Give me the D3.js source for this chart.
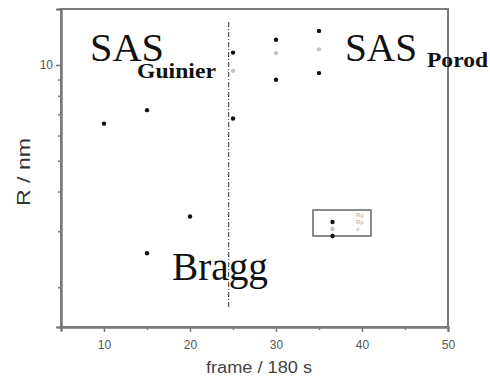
<!DOCTYPE html>
<html>
<head>
<meta charset="utf-8">
<script src="https://cdn.jsdelivr.net/npm/d3@7"></script>
<style>
  html, body { margin: 0; padding: 0; background: #fff; }
  svg { display: block; }
</style>
</head>
<body>
<svg id="chart" width="490" height="377"></svg>
<script>
// Particle size R (nm) against frame number (180 s per frame)
const guinierFrames = [10, 15, 25, 30, 35];
const guinierR      = [6.54, 7.21, 6.79, 8.99, 9.43];
const porodFrames   = [25, 30, 35];
const porodR        = [10.94, 12.0, 12.8];
const midFrames     = [25, 30, 35];
const midR          = [9.59, 10.9, 11.2];
const braggFrames   = [15, 20];
const braggR        = [2.56, 3.34];
const boundaryFrame = 24.5;

const xMajorTicks = [10, 20, 30, 40, 50];
const xMinorTicks = [15, 25, 35, 45];
const yMajorTicks = [10];
const yMinorTicks = [2, 3, 4, 5, 6, 7, 8, 9];
const legendLabels = ["Rg", "Rp", "d"];

const svg = d3.select("#chart");
const x = d3.scaleLinear().domain([5, 50]).range([61, 448]);
const y = d3.scaleLog().domain([1.5, 15]).range([327, 9]);

const axisColor = "#7a7a7a";

// frame box
svg.append("rect")
  .attr("x", x(5)).attr("y", y(15))
  .attr("width", x(50) - x(5)).attr("height", y(1.5) - y(15))
  .attr("fill", "none").attr("stroke", axisColor).attr("stroke-width", 2);

// bottom axis
svg.append("g").attr("transform", `translate(0,${y(1.5)})`)
  .call(d3.axisBottom(x).tickValues(xMajorTicks).tickSize(5).tickPadding(8).tickFormat(d3.format("d")));
svg.append("g").attr("transform", `translate(0,${y(1.5)})`)
  .call(d3.axisBottom(x).tickValues(xMinorTicks).tickSize(3).tickFormat(""));

// left axis
svg.append("g").attr("transform", `translate(${x(5)},0)`)
  .call(d3.axisLeft(y).tickValues(yMajorTicks).tickSize(5).tickPadding(3).tickFormat(d3.format("d")));
svg.append("g").attr("transform", `translate(${x(5)},0)`)
  .call(d3.axisLeft(y).tickValues(yMinorTicks).tickSize(3).tickFormat(""));

svg.selectAll(".domain").attr("stroke", axisColor).attr("stroke-width", 2);
svg.selectAll(".tick line").attr("stroke", axisColor).attr("stroke-width", 1.5);
svg.selectAll(".tick text")
  .attr("fill", "#555").attr("font-family", "Liberation Sans, Arial, sans-serif")
  .attr("font-size", 12);

// axis titles
svg.append("text")
  .attr("x", 259).attr("y", 373).attr("text-anchor", "middle")
  .attr("font-family", "Liberation Sans, Arial, sans-serif").attr("font-size", 16)
  .attr("fill", "#444")
  .attr("textLength", 106).attr("lengthAdjust", "spacingAndGlyphs")
  .text("frame / 180 s");
svg.append("text")
  .attr("transform", "translate(30,172) rotate(-90)").attr("text-anchor", "middle")
  .attr("font-family", "Liberation Sans, Arial, sans-serif").attr("font-size", 19)
  .attr("fill", "#333")
  .attr("textLength", 68).attr("lengthAdjust", "spacingAndGlyphs")
  .text("R / nm");

// Guinier / Porod boundary
svg.append("line")
  .attr("x1", x(boundaryFrame)).attr("x2", x(boundaryFrame))
  .attr("y1", 22).attr("y2", 307)
  .attr("stroke", "#333").attr("stroke-width", 1)
  .attr("stroke-dasharray", "5,2,1,2");

// data points
function dots(frames, values, color) {
  svg.append("g").selectAll("circle")
    .data(frames.map((f, i) => [f, values[i]]))
    .join("circle")
    .attr("cx", d => x(d[0])).attr("cy", d => y(d[1]))
    .attr("r", 2.2).attr("fill", color);
}
dots(guinierFrames, guinierR, "#111");
dots(porodFrames, porodR, "#111");
dots(midFrames, midR, "#c4c4c4");
dots(braggFrames, braggR, "#111");

// region labels
const serif = "Liberation Serif, Times New Roman, serif";
svg.append("text").attr("x", 90).attr("y", 61)
  .attr("font-family", serif).attr("font-size", 40).attr("fill", "#111")
  .attr("textLength", 74).attr("lengthAdjust", "spacingAndGlyphs").text("SAS");
svg.append("text").attr("x", 137).attr("y", 78)
  .attr("font-family", serif).attr("font-size", 21).attr("font-weight", "bold").attr("fill", "#111")
  .attr("textLength", 79).attr("lengthAdjust", "spacingAndGlyphs").text("Guinier");
svg.append("text").attr("x", 345).attr("y", 61)
  .attr("font-family", serif).attr("font-size", 40).attr("fill", "#111")
  .attr("textLength", 72).attr("lengthAdjust", "spacingAndGlyphs").text("SAS");
svg.append("text").attr("x", 427).attr("y", 67)
  .attr("font-family", serif).attr("font-size", 21).attr("font-weight", "bold").attr("fill", "#111")
  .attr("textLength", 61).attr("lengthAdjust", "spacingAndGlyphs").text("Porod");
svg.append("text").attr("x", 172).attr("y", 280)
  .attr("font-family", serif).attr("font-size", 40).attr("fill", "#111")
  .attr("textLength", 96).attr("lengthAdjust", "spacingAndGlyphs").text("Bragg");

// legend
const lg = svg.append("g");
lg.append("rect").attr("x", 313).attr("y", 210).attr("width", 58).attr("height", 26)
  .attr("fill", "#fff").attr("stroke", "#666").attr("stroke-width", 1.5);
const legendColors = ["#111", "#c4c4c4", "#111"];
legendLabels.forEach((lab, i) => {
  lg.append("circle").attr("cx", 332.5).attr("cy", 222 + i * 7)
    .attr("r", 2.2).attr("fill", legendColors[i]);
  lg.append("text").attr("x", 356).attr("y", 217 + i * 7)
    .attr("font-family", "Liberation Sans, Arial, sans-serif").attr("font-size", 6)
    .attr("fill", "#aaa").text(lab);
});
</script>
</body>
</html>
